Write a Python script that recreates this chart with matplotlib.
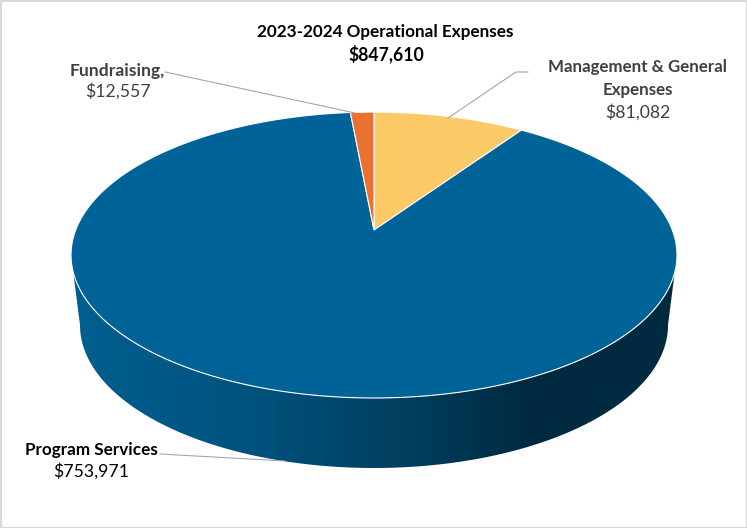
import numpy as np
import matplotlib
matplotlib.use("Agg")
import matplotlib.pyplot as plt
from matplotlib.colors import LinearSegmentedColormap
from matplotlib.patches import Polygon, Rectangle

categories = ["Management & General Expenses", "Program Services", "Fundraising"]
values = [81082, 753971, 12557]
value_labels = ["$81,082", "$753,971", "$12,557"]
colors = ["#FBC965", "#006398", "#E97132"]
title_lines = ["2023-2024 Operational Expenses", "$847,610"]

plt.rcParams['font.family'] = ['Lato', 'DejaVu Sans']

W, H = 747, 528
fig = plt.figure(figsize=(W / 100, H / 100), dpi=100)
ax = fig.add_axes([0, 0, 1, 1])
ax.axis("off")

# perspective of the pie disc, angle in degrees clockwise from 12 o'clock
APEX_X, APEX_Y = 374, 230
K = 0.175
A, B = 298.3, 138.6


def rim(deg):
    t = np.radians(deg)
    d = 1 + K * np.cos(t)
    return APEX_X + A * np.sin(t) / d, APEX_Y - B * np.cos(t) / d


# side wall, gradient clipped to the front of the disc
t2 = np.radians(np.linspace(0, 180, 200))
bot_x = 374 + 294 * np.cos(t2)
bot_y = 325 + 143 * np.sin(t2)
wall_pts = np.vstack([
    np.column_stack([bot_x, bot_y]),
    np.column_stack(rim(np.linspace(260, 100, 300))),
])
wall = Polygon(wall_pts, closed=True, fc="none", ec="none")
ax.add_patch(wall)
cmap = LinearSegmentedColormap.from_list(
    "wall", [(0, "#005F90"), (0.3, "#00527D"), (0.55, "#003F5F"), (0.75, "#002A40"), (1, "#002A40")]
)
grad = np.linspace(0, 1, 256).reshape(1, -1)
im = ax.imshow(grad, extent=[71, 677, H, 0], cmap=cmap, aspect="auto", zorder=1)
im.set_clip_path(wall)
ax.set_xlim(0, W)
ax.set_ylim(H, 0)

# top of the pie
angles = np.cumsum([0] + values) / sum(values) * 360
for i, c in enumerate(colors):
    a = np.linspace(angles[i], angles[i + 1], 300)
    x, y = rim(a)
    pts = np.vstack([[APEX_X, APEX_Y], np.column_stack([x, y])])
    ax.add_patch(Polygon(pts, closed=True, fc=c, ec="white", lw=0.8, zorder=2))

# leader lines
ax.plot([165, 355], [72, 113], color="#A6A6A6", lw=0.8, zorder=3)
ax.plot([528, 516, 448], [72, 72, 118], color="#A6A6A6", lw=0.8, zorder=3)
ax.plot([160, 285], [454, 461], color="#A6A6A6", lw=0.8, zorder=1)

# labels
ax.text(385, 32, title_lines[0], ha="center", va="center", fontsize=12.3, fontweight="bold", color="black")
ax.text(386, 54, title_lines[1], ha="center", va="center", fontsize=12.7, fontweight="bold", color="black")
ax.text(117, 71, categories[2] + ",", ha="center", va="center", fontsize=12.6, fontweight="bold", color="#404040")
ax.text(118, 91, value_labels[2], ha="center", va="center", fontsize=12.7, color="#404040")
ax.text(638, 67, "Management & General", ha="center", va="center", fontsize=12.2, fontweight="bold", color="#404040")
ax.text(638, 90, "Expenses", ha="center", va="center", fontsize=12.2, fontweight="bold", color="#404040")
ax.text(638, 112, value_labels[0], ha="center", va="center", fontsize=12.7, color="#404040")
ax.text(91, 450, categories[1], ha="center", va="center", fontsize=12.3, fontweight="bold", color="black")
ax.text(91, 471, value_labels[1], ha="center", va="center", fontsize=12.7, color="black")

# chart border
ax.add_patch(Rectangle((0.5, 0.5), W - 1, H - 1, fc="none", ec="#D9D9D9", lw=1.5, zorder=5))

fig.savefig("out.png", dpi=100)
